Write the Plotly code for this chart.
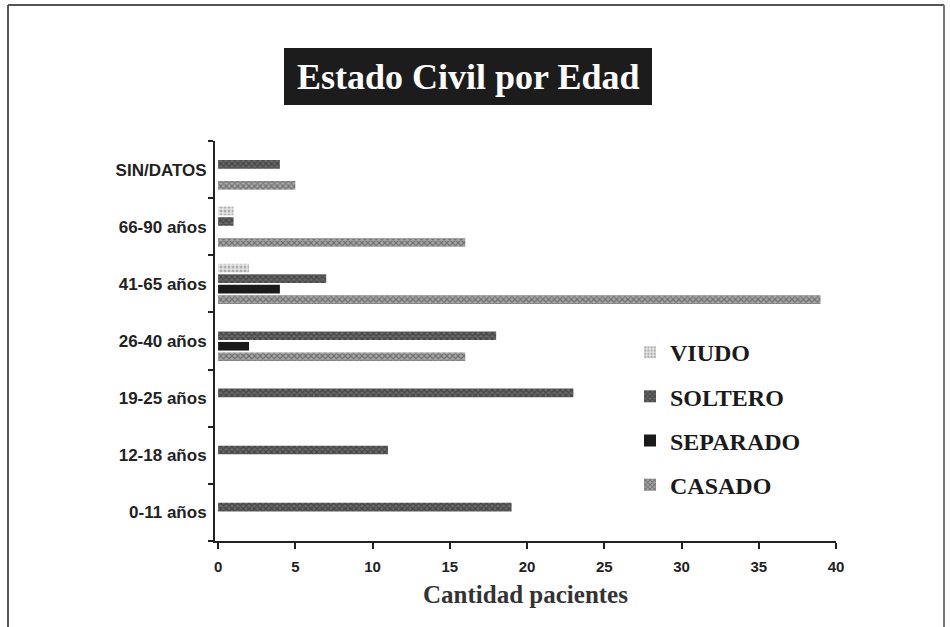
import plotly.graph_objects as go

categories = ["0-11 años", "12-18 años", "19-25 años", "26-40 años", "41-65 años", "66-90 años", "SIN/DATOS"]
casado = [0, 0, 0, 16, 39, 16, 5]
separado = [0, 0, 0, 2, 4, 0, 0]
soltero = [19, 11, 23, 18, 7, 1, 4]
viudo = [0, 0, 0, 0, 2, 1, 0]
x_ticks = [0, 5, 10, 15, 20, 25, 30, 35, 40]

L, R, T, B = 215, 836, 141, 541
W, H = 950, 627
def px(x):
    return (x - L) / (R - L)
def py(y):
    return (B - y) / (B - T)

serif = "Liberation Serif, Times New Roman, serif"
sans = "Liberation Sans, Arial, sans-serif"

series = [
    ("CASADO", casado, 4, dict(shape="x", fgcolor="#333333", bgcolor="#a8a8a8", size=4, solidity=0.5)),
    ("SEPARADO", separado, 3, dict(shape="", fgcolor="#1a1a1a", bgcolor="#1a1a1a")),
    ("SOLTERO", soltero, 2, dict(shape="x", fgcolor="#1e1e1e", bgcolor="#6a6a6a", size=4, solidity=0.55)),
    ("VIUDO", viudo, 1, dict(shape=".", fgcolor="#7a7a7a", bgcolor="#e4e4e4", size=4, solidity=0.45)),
]

fig = go.Figure()
for name, vals, rank, pat in series:
    fig.add_trace(go.Bar(
        y=categories, x=vals, name=name, orientation="h",
        legendgroup=name, legendrank=rank,
        marker=dict(color=pat["bgcolor"], pattern=pat, line=dict(width=0)),
    ))

fig.update_layout(
    width=W, height=H,
    margin=dict(l=L, r=W - R, t=T, b=H - B),
    paper_bgcolor="white", plot_bgcolor="white",
    barmode="group", bargap=0.265, bargroupgap=0.18,
    showlegend=True,
    legend=dict(
        x=px(630), y=py(330), xanchor="left", yanchor="top",
        traceorder="grouped", tracegroupgap=10,
        font=dict(family=serif, size=24, color="#1a1a1a", weight="bold"),
        bgcolor="rgba(0,0,0,0)",
        itemwidth=30,
    ),
    xaxis=dict(
        range=[-0.2, 40], tickvals=x_ticks, showgrid=False, zeroline=False,
        showline=True, linecolor="#222", linewidth=2,
        ticks="outside", ticklen=6, tickwidth=2, tickcolor="#222",
        tickfont=dict(family=sans, size=15, color="#222", weight="bold"),
        ticklabelstandoff=5,
        title=dict(text="<b>Cantidad pacientes</b>", font=dict(family=serif, size=25, color="#333"), standoff=11),
    ),
    yaxis=dict(
        range=[-0.5, 6.5], showgrid=False, zeroline=False,
        showline=True, linecolor="#222", linewidth=2,
        ticks="outside", ticklen=5, tickwidth=2, tickcolor="#222", tickson="boundaries",
        tickfont=dict(family=sans, size=17, color="#222", weight="bold"),
        ticklabelstandoff=3,
    ),
    shapes=[
        dict(type="rect", xref="paper", yref="paper", x0=px(284), x1=px(652), y0=py(105), y1=py(48),
             fillcolor="#1c1c1c", line=dict(width=0), layer="below"),
        dict(type="line", xref="paper", yref="paper", x0=px(8), x1=px(8), y0=py(5), y1=py(640),
             line=dict(color="#555", width=2)),
        dict(type="line", xref="paper", yref="paper", x0=px(8), x1=px(944), y0=py(5), y1=py(5),
             line=dict(color="#555", width=2)),
        dict(type="line", xref="paper", yref="paper", x0=px(944), x1=px(944), y0=py(5), y1=py(640),
             line=dict(color="#777", width=2)),
    ],
    annotations=[
        dict(text="<b>Estado Civil por Edad</b>", xref="paper", yref="paper", x=px(468), y=py(77),
             xanchor="center", yanchor="middle", showarrow=False,
             font=dict(family=serif, size=36, color="white")),
    ],
)

fig.write_html("out.html", config={"displayModeBar": False},
               post_script="document.body.style.margin='0';")
